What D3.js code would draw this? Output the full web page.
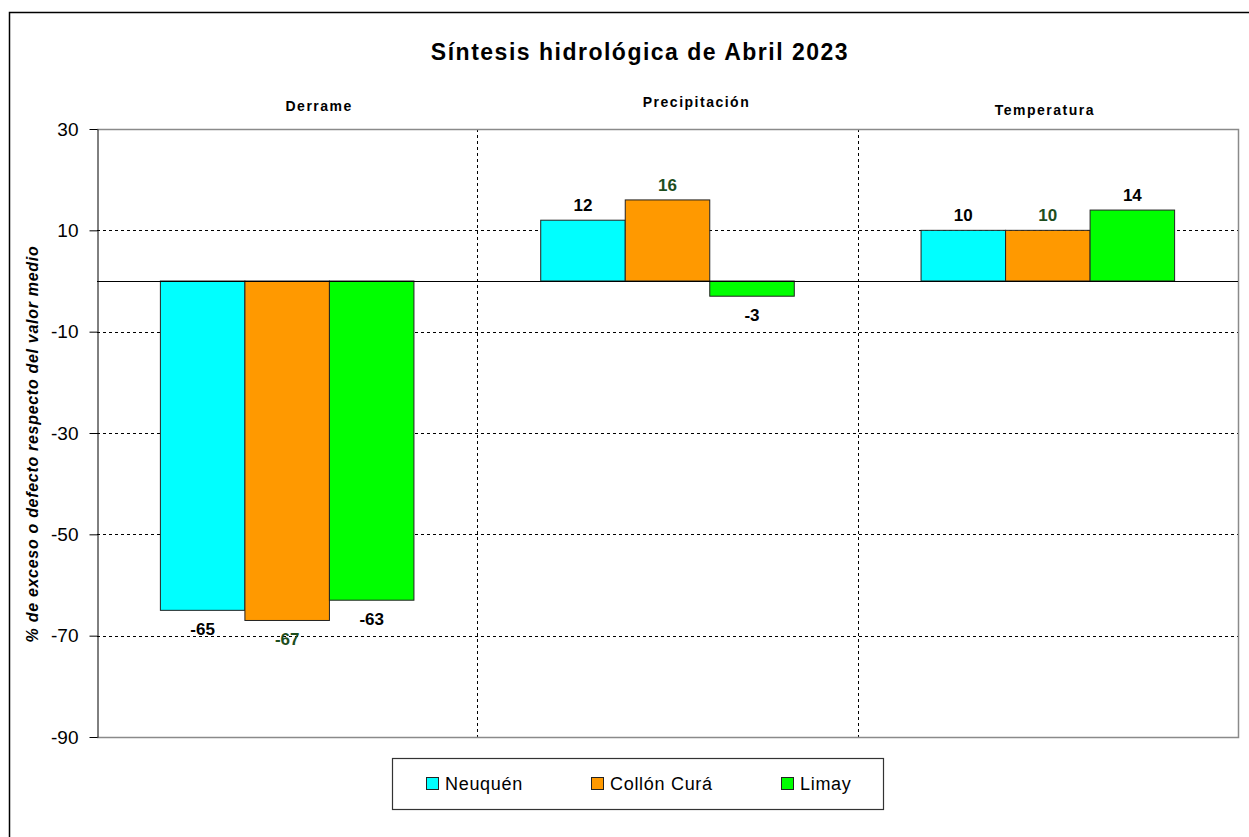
<!DOCTYPE html>
<html>
<head>
	<title>sintesis-hidrologica</title>
	<script src="https://d3js.org/d3.v7.min.js"></script>
	<style>
		body { margin: 0; background: #fff; }
		text { font-family: Arial, "Liberation Sans", sans-serif; }
	</style>
</head>
<body>
	<svg width="1249" height="837"></svg>
	<script type="text/javascript">
		var categories = ['Derrame', 'Precipitación', 'Temperatura'];
		var seriesNames = ['Neuquén', 'Collón Curá', 'Limay'];
		var neuquen = [-65, 12, 10];
		var collonCura = [-67, 16, 10];
		var limay = [-63, -3, 14];
		var yTicks = [30, 10, -10, -30, -50, -70, -90];

		var colors = ['#00FFFF', '#FF9900', '#00FF00'];
		var labelColors = ['#000', '#1E4E1E', '#000'];

		var series = [neuquen, collonCura, limay];
		var data = categories.map((c, i) => ({
			cat: c,
			vals: seriesNames.map((s, j) => ({ name: s, i: j, v: series[j][i] }))
		}));

		var pLeft = 97, pRight = 1238, pTop = 129, pBottom = 737;
		var svg = d3.select('svg');

		// outer frame
		svg.append('rect')
			.attr('x', 9.5).attr('y', 12.5)
			.attr('width', 1245).attr('height', 840)
			.attr('fill', 'none').attr('stroke', '#000').attr('stroke-width', 1.5);

		var y = d3.scaleLinear().domain([-90, 30]).range([pBottom, pTop]);
		var x0 = d3.scaleBand().domain(categories).range([pLeft, pRight]).padding(0);
		var x1 = d3.scaleBand().domain(seriesNames).range([0, x0.bandwidth()])
			.paddingInner(0).paddingOuter(0.75);

		// grid
		svg.append('g').selectAll('line')
			.data(yTicks.filter(t => t != 30 && t != -90))
			.enter().append('line')
			.attr('x1', pLeft).attr('x2', pRight)
			.attr('y1', d => Math.round(y(d)) + 0.5).attr('y2', d => Math.round(y(d)) + 0.5)
			.attr('stroke', '#000').attr('stroke-dasharray', '3,3');

		svg.append('g').selectAll('line')
			.data(categories.slice(1))
			.enter().append('line')
			.attr('x1', d => Math.round(x0(d)) + 0.5).attr('x2', d => Math.round(x0(d)) + 0.5)
			.attr('y1', pTop).attr('y2', pBottom)
			.attr('stroke', '#000').attr('stroke-dasharray', '3,3');

		// plot frame (top, right, bottom)
		svg.append('path')
			.attr('d', `M${pLeft},${pTop + 0.5}H${pRight + 0.5}V${pBottom + 0.5}H${pLeft}`)
			.attr('fill', 'none').attr('stroke', '#8a8a8a').attr('stroke-width', 1.5);

		// bars
		var g = svg.append('g').selectAll('g')
			.data(data)
			.enter().append('g')
			.attr('transform', d => `translate(${x0(d.cat)},0)`);

		g.selectAll('rect')
			.data(d => d.vals)
			.enter().append('rect')
			.attr('x', d => x1(d.name))
			.attr('y', d => y(Math.max(0, d.v)))
			.attr('width', x1.bandwidth())
			.attr('height', d => Math.abs(y(d.v) - y(0)))
			.attr('fill', d => colors[d.i])
			.attr('stroke', '#222').attr('stroke-width', 1);

		g.selectAll('text')
			.data(d => d.vals)
			.enter().append('text')
			.attr('x', d => x1(d.name) + x1.bandwidth() / 2)
			.attr('y', d => d.v >= 0 ? y(d.v) - 9 : y(d.v) + 25)
			.attr('text-anchor', 'middle')
			.attr('font-size', 17).attr('font-weight', 'bold')
			.attr('fill', d => labelColors[d.i])
			.text(d => d.v);

		// zero line
		svg.append('line')
			.attr('x1', pLeft).attr('x2', pRight)
			.attr('y1', Math.round(y(0)) + 0.5).attr('y2', Math.round(y(0)) + 0.5)
			.attr('stroke', '#000');

		// y axis
		var yAxis = svg.append('g')
			.attr('transform', `translate(${pLeft + 0.5},0)`)
			.call(d3.axisLeft(y).tickValues(yTicks).tickFormat(d => String(d))
				.tickSize(8).tickPadding(11).tickSizeOuter(0));
		yAxis.select('.domain').attr('stroke', '#000');
		yAxis.selectAll('.tick text')
			.attr('font-size', 19).attr('fill', '#000')
			.attr('font-family', 'Arial, "Liberation Sans", sans-serif');

		svg.append('text')
			.attr('transform', 'translate(38,444) rotate(-90)')
			.attr('text-anchor', 'middle')
			.attr('font-size', 16).attr('font-weight', 'bold').attr('font-style', 'italic')
			.attr('letter-spacing', 0.7)
			.text('% de exceso o defecto respecto del valor medio');

		// title and category headers
		svg.append('text')
			.attr('x', 640).attr('y', 60)
			.attr('text-anchor', 'middle')
			.attr('font-size', 23).attr('font-weight', 'bold')
			.attr('letter-spacing', 1.5)
			.text('Síntesis hidrológica de Abril 2023');

		var headerShift = { 'Derrame': [32, 111], 'Precipitación': [29, 107], 'Temperatura': [-3, 115] };
		svg.append('g').selectAll('text')
			.data(categories)
			.enter().append('text')
			.attr('x', d => x0(d) + x0.bandwidth() / 2 + headerShift[d][0])
			.attr('y', d => headerShift[d][1])
			.attr('text-anchor', 'middle')
			.attr('font-size', 14).attr('font-weight', 'bold')
			.attr('letter-spacing', 1.5)
			.text(d => d);

		// legend
		var legend = svg.append('g');
		legend.append('rect')
			.attr('x', 392.5).attr('y', 758.5).attr('width', 491).attr('height', 51)
			.attr('fill', '#fff').attr('stroke', '#333').attr('stroke-width', 1.2);
		var legendX = [426, 591, 781];
		var li = legend.selectAll('.item')
			.data(seriesNames)
			.enter().append('g')
			.attr('transform', (d, i) => `translate(${legendX[i]},777)`);
		li.append('rect')
			.attr('x', 0.5).attr('y', 0.5).attr('width', 12).attr('height', 12)
			.attr('fill', (d, i) => colors[i]).attr('stroke', '#222');
		li.append('text')
			.attr('x', 19).attr('y', 13)
			.attr('font-size', 18).attr('letter-spacing', 0.7)
			.text(d => d);
	</script>
</body>
</html>
